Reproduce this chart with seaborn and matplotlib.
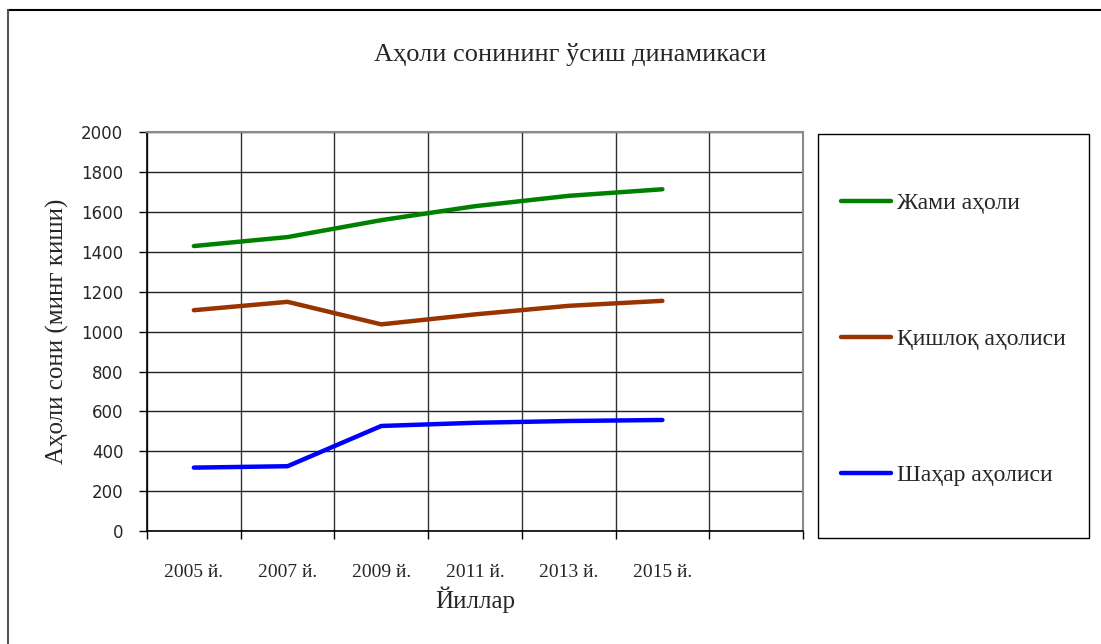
import numpy as np
import pandas as pd
import matplotlib
matplotlib.use("Agg")
import matplotlib.pyplot as plt
from matplotlib.lines import Line2D
from matplotlib.patches import Rectangle
import seaborn as sns

# Chart data
years = ["2005 й.", "2007 й.", "2009 й.", "2011 й.", "2013 й.", "2015 й."]
total_pop = [1430, 1475, 1560, 1630, 1682, 1715]
rural_pop = [1108, 1150, 1037, 1087, 1130, 1155]
urban_pop = [318, 325, 527, 543, 552, 557]
series_names = ["Жами аҳоли", "Қишлоқ аҳолиси", "Шаҳар аҳолиси"]
series_colors = ["#008000", "#993300", "#0000FF"]

serif = ["Liberation Serif", "DejaVu Serif"]


def build_frame():
    rows = []
    for name, values in zip(series_names, [total_pop, rural_pop, urban_pop]):
        for i, v in enumerate(values):
            rows.append({"pos": i, "year": years[i], "value": v, "series": name})
    return pd.DataFrame(rows)


def plot_population(df):
    sns.set_style("white")
    fig = plt.figure(figsize=(11.01, 6.44), dpi=100)
    ax = fig.add_axes([0.1335, 0.1755, 0.5958, 0.6188])

    sns.lineplot(data=df, x="pos", y="value", hue="series", hue_order=series_names,
                 palette=series_colors, linewidth=3.2, ax=ax, legend=False,
                 solid_capstyle="round")

    # category slots: 6 years plus one empty slot, grid between slots
    ax.set_xlim(-0.5, 6.5)
    ax.set_ylim(0, 2000)
    ax.set_xticks(range(len(years)))
    ax.set_xticklabels(years, family=serif, fontsize=14)
    ax.set_xticks(np.arange(-0.5, 7.0, 1.0), minor=True)
    ax.set_yticks(range(0, 2001, 200))
    ax.tick_params(axis="y", labelsize=12, length=6, width=1, pad=11, left=True,
                   color="black")
    ax.tick_params(axis="x", which="major", length=0, pad=24)
    ax.tick_params(axis="x", which="minor", length=6, width=1, bottom=True,
                   color="black")
    ax.grid(True, axis="y", which="major", color="#222222", linewidth=1)
    ax.grid(True, axis="x", which="minor", color="#333333", linewidth=1)
    ax.set_axisbelow(True)

    for side in ["left", "bottom"]:
        ax.spines[side].set_color("black")
        ax.spines[side].set_linewidth(1.2)
    for side in ["top", "right"]:
        ax.spines[side].set_color("#8a8a8a")
        ax.spines[side].set_linewidth(1.5)

    ax.set_xlabel("Йиллар", family=serif, fontsize=18, labelpad=4)
    ax.set_ylabel("Аҳоли сони (минг киши)", family=serif, fontsize=18, labelpad=9)
    fig.text(0.518, 0.915, "Аҳоли сонининг ўсиш динамикаси", family=serif,
             fontsize=19, ha="center", va="center")

    # legend box on the right
    fig.add_artist(Rectangle((818 / 1101, 1 - 538 / 644), 271 / 1101, 404 / 644,
                             transform=fig.transFigure, fill=False,
                             edgecolor="black", linewidth=1))
    handles = [Line2D([0], [0], color=c, linewidth=3.2) for c in series_colors]
    fig.legend(handles, series_names, loc="upper left",
               bbox_to_anchor=(832 / 1101, 1 - 183 / 644), frameon=False,
               prop={"family": serif, "size": 17}, handlelength=2.1,
               handletextpad=0.25, labelspacing=4.85, borderaxespad=0)

    # outer chart frame (top and left edges visible)
    fig.add_artist(Line2D([8 / 1101, 1.0], [1 - 10 / 644, 1 - 10 / 644],
                          transform=fig.transFigure, color="black", linewidth=1.5))
    fig.add_artist(Line2D([8 / 1101, 8 / 1101], [0.0, 1 - 10 / 644],
                          transform=fig.transFigure, color="#555555", linewidth=1.5))

    fig.savefig("out.png", dpi=100)
    plt.close(fig)


if __name__ == "__main__":
    df_pop = build_frame()
    plot_population(df_pop)
